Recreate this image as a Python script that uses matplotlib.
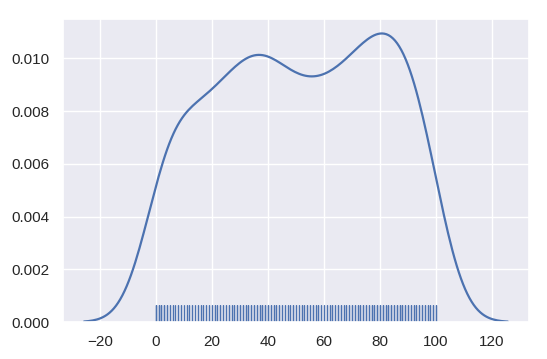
import numpy as np
import matplotlib
matplotlib.use('Agg')
import matplotlib.pyplot as plt
import seaborn as sns

# integer values 0..100 and how many times each one shows up
values = list(range(0, 101))
counts = [7, 6, 6, 6, 5,
          4, 4, 3, 4, 4, 3, 4, 4, 4, 3, 4, 4, 4, 4, 4,
          4, 5, 4, 5, 4, 4, 5, 4, 5, 5,
          5, 5, 5, 5, 5, 5, 5, 5, 6, 6, 6, 5, 5, 5, 5,
          4, 4, 4, 4, 5, 4, 4, 5, 4, 5, 4, 5, 4, 5, 4, 4, 4, 4, 5, 4,
          5, 5, 4, 5, 5, 5, 5, 5, 5, 5,
          5, 5, 6, 5, 6, 6, 6, 5, 6, 6, 5, 6, 6, 6, 5, 5, 5,
          5, 5, 5, 5, 5, 5, 4, 5, 5]

data = np.repeat(values, counts)

sns.set_theme()
plt.rcParams['font.family'] = ['Liberation Sans', 'DejaVu Sans']

fig = plt.figure(figsize=(5.47, 3.59), dpi=100)
ax = fig.add_axes([0.115, 0.103, 0.852, 0.844])

sns.kdeplot(x=data, cut=3, ax=ax, color='#4c72b0', linewidth=1.6)
sns.rugplot(x=data, height=0.055, ax=ax, color='#4c72b0', linewidth=0.8)

# keep the top at 5% above the curve peak
peak = ax.lines[0].get_ydata().max()
ax.set_ylim(0, peak * 1.05)
ax.set_ylabel('')
ax.set_xlabel('')
ax.set_yticks([0.0, 0.002, 0.004, 0.006, 0.008, 0.010])
ax.set_yticklabels(['0.000', '0.002', '0.004', '0.006', '0.008', '0.010'])
ax.set_xticks([-20, 0, 20, 40, 60, 80, 100, 120])
ax.tick_params(labelsize=11)

fig.savefig('out.png', dpi=100)
